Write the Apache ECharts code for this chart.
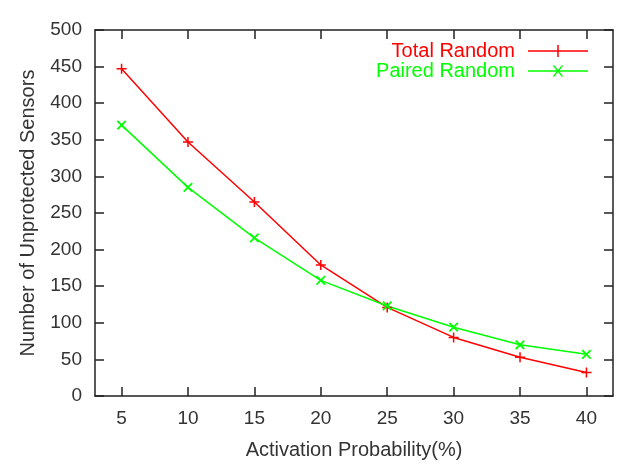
<!DOCTYPE html>
<html>
<head>
<meta charset="utf-8">
<script src="https://cdn.jsdelivr.net/npm/echarts@6/dist/echarts.min.js"></script>
<style>
    html, body { margin: 0; padding: 0; background: #fff; }
    #chart { width: 621px; height: 465px; }
</style>
</head>
<body>
<div id="chart"></div>
<script>
// values
const xValues = [5, 10, 15, 20, 25, 30, 35, 40];
const totalRandom = [447, 347, 265, 179, 121, 80, 53, 32];
const pairedRandom = [370, 285, 216, 158, 123, 94, 70, 57];
const xTicks = [5, 10, 15, 20, 25, 30, 35, 40];

const font = 'Liberation Sans, Arial, sans-serif';
const axisColor = '#222';

// gnuplot style point markers
const plusPath = 'path://M0,4.25h10v1.5h-10z M4.25,0h1.5v10h-1.5z';
const plusIcon = 'path://M0,5.25h60v1.5h-60z M29.25,0h1.5v12h-1.5z';
const crossIcon = 'path://M0,5.25h60v1.5h-60z M25,1L26,0L35,11L34,12Z M34,0L35,1L26,12L25,11Z';

function pairs(ys) {
    return xValues.map((x, i) => [x, ys[i]]);
}

let chart = echarts.init(document.getElementById('chart'));

let baseX = {
    type: 'value',
    min: 3,
    max: 42,
    splitLine: { show: false },
    axisLine: { show: true, onZero: false, lineStyle: { color: axisColor, width: 1.5 } },
    axisTick: { show: true, inside: true, length: 9, customValues: xTicks, lineStyle: { color: axisColor, width: 1.5 } }
};
let baseY = {
    type: 'value',
    min: 0,
    max: 500,
    interval: 50,
    splitLine: { show: false },
    axisLine: { show: true, lineStyle: { color: axisColor, width: 1.5 } },
    axisTick: { show: true, inside: true, length: 9, lineStyle: { color: axisColor, width: 1.5 } }
};

let option = {
    animation: false,
    backgroundColor: '#fff',
    textStyle: { fontFamily: font },
    grid: { left: 95, right: 8, top: 30, bottom: 69 },
    legend: {
        orient: 'vertical',
        right: 28,
        top: 36,
        align: 'right',
        itemWidth: 60,
        itemHeight: 12,
        itemGap: 0,
        textStyle: { fontSize: 20, fontFamily: font, padding: [0, 8, 0, 0] },
        data: [
            { name: 'Total Random', icon: plusIcon, textStyle: { color: '#ff0000' } },
            { name: 'Paired Random', icon: crossIcon, textStyle: { color: '#00ff00' } }
        ]
    },
    xAxis: [
        Object.assign({}, baseX, {
            position: 'bottom',
            name: 'Activation Probability(%)',
            nameLocation: 'middle',
            nameGap: 44,
            nameTextStyle: { fontSize: 20, color: '#333' },
            axisLabel: { customValues: xTicks, fontSize: 19, color: '#333', margin: 13 }
        }),
        Object.assign({}, baseX, {
            position: 'top',
            axisLabel: { show: false }
        })
    ],
    yAxis: [
        Object.assign({}, baseY, {
            position: 'left',
            name: 'Number of Unprotected Sensors',
            nameLocation: 'middle',
            nameGap: 57,
            nameTextStyle: { fontSize: 20, color: '#333' },
            axisLabel: { fontSize: 19, color: '#333', margin: 13 }
        }),
        Object.assign({}, baseY, {
            position: 'right',
            axisLabel: { show: false }
        })
    ],
    series: [{
        name: 'Total Random',
        type: 'line',
        data: pairs(totalRandom),
        symbol: plusPath,
        symbolSize: 10,
        color: '#ff0000',
        itemStyle: { color: '#ff0000', borderWidth: 0 },
        lineStyle: { color: '#ff0000', width: 1.5 }
    }, {
        name: 'Paired Random',
        type: 'line',
        data: pairs(pairedRandom),
        symbol: plusPath,
        symbolRotate: 45,
        symbolSize: 12,
        color: '#00ff00',
        itemStyle: { color: '#00ff00', borderWidth: 0 },
        lineStyle: { color: '#00ff00', width: 1.5 }
    }]
};

chart.setOption(option);
</script>
</body>
</html>
